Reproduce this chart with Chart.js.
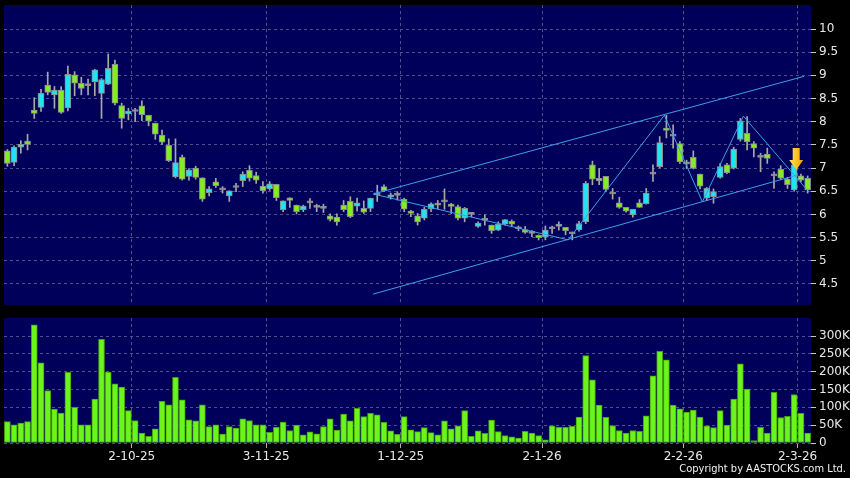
<!DOCTYPE html>
<html>
<head>
<meta charset="utf-8">
<script src="https://cdn.jsdelivr.net/npm/chart.js@4.4.1/dist/chart.umd.min.js"></script>
<style>
    body { margin: 0; background: #000; width: 850px; height: 478px; overflow: hidden; position: relative; }
    #price { position: absolute; left: 0; top: 0; }
    #volume { position: absolute; left: 0; top: 310px; }
    #copy { position: absolute; right: 4px; top: 462px; color: #f2f2f2; font: 11px 'DejaVu Sans Condensed', 'DejaVu Sans', sans-serif; }
</style>
</head>
<body>
<canvas id="price" width="850" height="310"></canvas>
<canvas id="volume" width="850" height="168"></canvas>
<div id="copy">Copyright by AASTOCKS.com Ltd.</div>
<script>
// daily sessions, index 0 = first bar on the left
var tickLabels = ['2-10-25', '3-11-25', '1-12-25', '2-1-26', '2-2-26', '2-3-26'];
var tickIndex = [19, 39, 59, 80, 101, 118]; // first session of each month
var priceTicks = [4.5, 5, 5.5, 6, 6.5, 7, 7.5, 8, 8.5, 9, 9.5, 10];
var volumeTicks = [0, 50, 100, 150, 200, 250, 300];

var open = [7.37, 7.12, 7.45, 7.58, 8.25, 8.31, 8.79, 8.58, 8.68, 8.30,
    9.01, 8.83, 8.78, 8.86, 8.61, 8.81, 9.24, 8.35, 8.17, 8.22,
    8.34, 8.14, 7.97, 7.71, 7.49, 6.81, 7.23, 6.82, 7.00, 6.79,
    6.47, 6.70, 6.53, 6.40, 6.58, 6.73, 6.95, 6.84, 6.61, 6.55,
    6.65, 6.10, 6.36, 6.20, 6.10, 6.25, 6.15, 6.13, 5.97, 5.94,
    6.20, 6.28, 6.18, 6.13, 6.13, 6.42, 6.60, 6.37, 6.41, 6.33,
    6.07, 5.97, 5.92, 6.12, 6.24, 6.27, 6.22, 6.17, 5.92, 6.00,
    5.74, 5.87, 5.77, 5.66, 5.79, 5.85, 5.69, 5.67, 5.59, 5.55,
    5.51, 5.69, 5.74, 5.72, 5.58, 5.67, 5.84, 7.07, 6.72, 6.82,
    6.44, 6.25, 6.15, 5.99, 6.25, 6.23, 6.87, 7.03, 7.86, 7.69,
    7.53, 7.09, 7.23, 6.87, 6.35, 6.38, 6.80, 7.07, 7.00, 7.62,
    7.75, 7.53, 7.23, 7.30, 6.83, 6.97, 6.76, 6.53, 6.83, 6.78];
var high = [7.40, 7.48, 7.59, 7.73, 8.52, 8.70, 9.07, 8.76, 8.76, 9.20,
    9.08, 8.96, 8.92, 9.13, 8.93, 9.46, 9.33, 8.40, 8.29, 8.29,
    8.45, 8.14, 7.97, 7.82, 7.63, 7.63, 7.28, 6.99, 7.04, 6.79,
    6.60, 6.78, 6.60, 6.51, 6.67, 6.92, 7.05, 6.91, 6.71, 6.71,
    6.65, 6.29, 6.36, 6.20, 6.20, 6.34, 6.22, 6.22, 6.01, 6.01,
    6.30, 6.38, 6.35, 6.29, 6.35, 6.63, 6.64, 6.46, 6.49, 6.35,
    6.09, 6.02, 6.15, 6.25, 6.30, 6.55, 6.24, 6.20, 6.15, 6.04,
    5.84, 5.99, 5.77, 5.84, 5.89, 5.88, 5.75, 5.74, 5.65, 5.56,
    5.75, 5.75, 5.84, 5.72, 5.62, 5.85, 6.71, 7.15, 6.99, 6.82,
    6.56, 6.37, 6.15, 6.11, 6.32, 6.56, 7.07, 7.68, 8.14, 7.93,
    7.57, 7.17, 7.37, 6.87, 6.58, 6.55, 7.10, 7.10, 7.45, 8.07,
    8.11, 7.57, 7.32, 7.43, 6.92, 7.05, 6.80, 7.20, 6.87, 6.83];
var low = [7.04, 7.05, 7.32, 7.39, 8.07, 8.22, 8.58, 8.29, 8.18, 8.23,
    8.56, 8.58, 8.58, 8.56, 8.07, 8.80, 8.36, 7.86, 8.04, 8.00,
    8.02, 7.91, 7.62, 7.51, 7.14, 6.79, 6.74, 6.74, 6.76, 6.28,
    6.40, 6.58, 6.46, 6.28, 6.49, 6.60, 6.72, 6.67, 6.46, 6.52,
    6.30, 6.06, 6.15, 6.01, 6.06, 6.13, 6.06, 6.04, 5.86, 5.77,
    6.06, 5.93, 6.07, 6.02, 6.06, 6.28, 6.49, 6.33, 6.31, 6.06,
    5.95, 5.77, 5.88, 6.06, 6.12, 6.11, 6.02, 5.88, 5.84, 5.95,
    5.72, 5.77, 5.59, 5.65, 5.77, 5.74, 5.65, 5.59, 5.52, 5.45,
    5.45, 5.59, 5.66, 5.56, 5.45, 5.64, 5.80, 6.64, 6.64, 6.50,
    6.33, 6.13, 6.05, 5.94, 6.15, 6.22, 6.71, 7.00, 7.65, 7.43,
    7.10, 6.99, 6.98, 6.55, 6.30, 6.24, 6.78, 6.88, 6.98, 7.58,
    7.39, 7.24, 6.92, 7.10, 6.56, 6.75, 6.56, 6.50, 6.70, 6.46];
var close = [7.10, 7.45, 7.51, 7.51, 8.18, 8.61, 8.63, 8.68, 8.20, 9.02,
    8.83, 8.72, 8.78, 9.12, 8.91, 9.15, 8.40, 8.07, 8.23, 8.22,
    8.15, 8.01, 7.73, 7.56, 7.16, 7.12, 6.76, 6.96, 6.80, 6.33,
    6.55, 6.62, 6.53, 6.51, 6.58, 6.87, 6.78, 6.74, 6.51, 6.66,
    6.36, 6.29, 6.30, 6.06, 6.18, 6.25, 6.15, 6.13, 5.89, 5.84,
    6.10, 5.95, 6.25, 6.05, 6.35, 6.42, 6.51, 6.42, 6.41, 6.11,
    6.02, 5.84, 6.11, 6.23, 6.20, 6.27, 6.17, 5.92, 6.13, 6.00,
    5.81, 5.87, 5.65, 5.79, 5.89, 5.79, 5.69, 5.61, 5.59, 5.50,
    5.66, 5.69, 5.79, 5.65, 5.58, 5.80, 6.67, 6.76, 6.78, 6.54,
    6.44, 6.15, 6.07, 6.11, 6.15, 6.46, 6.87, 7.55, 7.81, 7.69,
    7.14, 7.09, 6.99, 6.61, 6.56, 6.49, 7.03, 6.90, 7.41, 8.02,
    7.57, 7.43, 7.23, 7.21, 6.83, 6.78, 6.64, 7.07, 6.74, 6.53];
var volumeK = [60, 51, 56, 60, 331, 225, 147, 95, 84, 198,
    100, 51, 51, 123, 291, 199, 166, 157, 91, 63,
    28, 19, 40, 117, 107, 184, 121, 65, 62, 107,
    46, 51, 25, 46, 42, 68, 63, 51, 51, 30,
    44, 59, 35, 50, 23, 31, 26, 46, 68, 36,
    81, 62, 97, 74, 83, 79, 58, 34, 24, 74,
    37, 32, 43, 29, 23, 62, 40, 48, 91, 19,
    34, 27, 64, 32, 21, 17, 14, 33, 28, 21,
    9, 48, 44, 44, 47, 73, 245, 177, 106, 72,
    49, 35, 28, 35, 33, 76, 188, 257, 233, 106,
    96, 87, 92, 73, 48, 43, 91, 50, 123, 222,
    151, 7, 44, 28, 142, 71, 75, 136, 83, 28];

// drawn trend lines: [session index, price]
var upperChannel = [[54.4, 6.44], [118.5, 8.98]];
var lowerChannel = [[54.4, 4.28], [117.5, 6.85]];
var zigzag = [[54.4, 6.44], [83.4, 5.45], [97.7, 8.14], [103.35, 6.27], [109.45, 8.12], [118.9, 6.53]];
var arrowAt = { index: 117.3, top: 7.43, tip: 6.96 };

Chart.defaults.font.family = 'DejaVu Sans';
Chart.defaults.font.size = 12;
Chart.defaults.color = '#e8e8e8';

var gridColor = '#4f4f8c';
var upColor = '#22e3f2';
var downColor = '#84ec22';
var flatColor = '#a0a0a0';

// dark panel behind the plot area
var panelBg = {
    id: 'panelBg',
    beforeDraw: function (chart) {
        var a = chart.chartArea;
        var ctx = chart.ctx;
        ctx.save();
        ctx.fillStyle = '#00005a';
        ctx.fillRect(a.left, a.top, a.right - a.left, a.bottom - a.top);
        ctx.restore();
    }
};

// the yellow marker arrow
var arrowMark = {
    id: 'arrowMark',
    afterDatasetsDraw: function (chart) {
        var x = chart.scales.x.getPixelForValue(arrowAt.index);
        var yTop = chart.scales.y.getPixelForValue(arrowAt.top);
        var yTip = chart.scales.y.getPixelForValue(arrowAt.tip);
        var headY = yTip - 10;
        var ctx = chart.ctx;
        var g = ctx.createLinearGradient(x - 7, 0, x + 7, 0);
        g.addColorStop(0, '#ffe45a');
        g.addColorStop(1, '#f0a400');
        ctx.save();
        ctx.fillStyle = g;
        ctx.beginPath();
        ctx.moveTo(x - 3.5, yTop);
        ctx.lineTo(x + 3.5, yTop);
        ctx.lineTo(x + 3.5, headY);
        ctx.lineTo(x + 7, headY);
        ctx.lineTo(x, yTip);
        ctx.lineTo(x - 7, headY);
        ctx.lineTo(x - 3.5, headY);
        ctx.closePath();
        ctx.fill();
        ctx.restore();
    }
};

// keep the plot area exactly where the layout padding puts it
function noEdgePadding(s) {
    s.paddingTop = 0;
    s.paddingBottom = 0;
    s.paddingLeft = 0;
    s.paddingRight = 0;
}

function xAxis(showLabels) {
    return {
        type: 'linear',
        min: -0.5,
        max: close.length - 0.5,
        offset: false,
        afterBuildTicks: function (s) {
            s.ticks = tickIndex.map(function (v) { return { value: v - 0.5 }; });
        },
        afterFit: function (s) {
            s.height = showLabels ? 35 : 0;
            noEdgePadding(s);
        },
        grid: { offset: false, color: gridColor, drawTicks: showLabels, tickLength: 5, tickColor: '#b0b0b0', tickBorderDash: [] },
        border: { display: false, dash: [3, 3] },
        ticks: {
            display: showLabels,
            maxRotation: 0,
            autoSkip: false,
            padding: 2,
            callback: function (v) {
                var k = tickIndex.indexOf(v + 0.5);
                return k >= 0 ? tickLabels[k] : '';
            }
        }
    };
}

function yAxis(min, max, values, fmt) {
    return {
        position: 'right',
        min: min,
        max: max,
        afterBuildTicks: function (s) {
            s.ticks = values.map(function (v) { return { value: v }; });
        },
        afterFit: function (s) {
            s.width = 39;
            noEdgePadding(s);
        },
        grid: { color: gridColor, tickLength: 5, tickColor: '#c8c8c8', tickBorderDash: [] },
        border: { display: false, dash: [3, 3] },
        ticks: { padding: 3, callback: fmt }
    };
}

function pairs(list) {
    return list.map(function (p) { return { x: p[0], y: p[1] }; });
}

function trendLine(list) {
    return {
        type: 'line',
        data: pairs(list),
        borderColor: '#3f9fe8',
        borderWidth: 1,
        pointRadius: 0,
        fill: false,
        tension: 0,
        order: 0
    };
}

function candleColor(ctx) {
    var i = ctx.dataIndex;
    if (close[i] > open[i]) return upColor;
    if (close[i] < open[i]) return downColor;
    return flatColor;
}

new Chart(document.getElementById('price'), {
    type: 'bar',
    data: {
        datasets: [
            trendLine(upperChannel),
            trendLine(lowerChannel),
            trendLine(zigzag),
            {
                data: close.map(function (c, i) { return { x: i, y: [open[i], c] }; }),
                backgroundColor: candleColor,
                borderColor: '#8c8c8c',
                borderWidth: 1,
                borderSkipped: false,
                barThickness: 6,
                minBarLength: 2,
                grouped: false,
                order: 1
            },
            {
                data: close.map(function (c, i) { return { x: i, y: [low[i], high[i]] }; }),
                backgroundColor: '#a8a8a8',
                borderWidth: 0,
                barThickness: 1,
                grouped: false,
                order: 2
            }
        ]
    },
    options: {
        responsive: false,
        animation: false,
        layout: { padding: { left: 4, top: 5, right: 0, bottom: 5 } },
        plugins: { legend: { display: false }, tooltip: { enabled: false } },
        scales: {
            x: xAxis(false),
            y: yAxis(4.045, 10.518, priceTicks, function (v) { return String(v); })
        }
    },
    plugins: [panelBg, arrowMark]
});

new Chart(document.getElementById('volume'), {
    type: 'bar',
    data: {
        datasets: [{
            data: volumeK.map(function (v, i) { return { x: i, y: v }; }),
            backgroundColor: '#6cf51c',
            borderColor: '#47a00e',
            borderWidth: 1,
            borderSkipped: false,
            barThickness: 6,
            grouped: false
        }]
    },
    options: {
        responsive: false,
        animation: false,
        layout: { padding: { left: 4, top: 8, right: 0, bottom: 0 } },
        plugins: { legend: { display: false }, tooltip: { enabled: false } },
        scales: {
            x: xAxis(true),
            y: yAxis(0, 350.5, volumeTicks, function (v) { return v === 0 ? '0' : v + 'K'; })
        }
    },
    plugins: [panelBg]
});
</script>
</body>
</html>
